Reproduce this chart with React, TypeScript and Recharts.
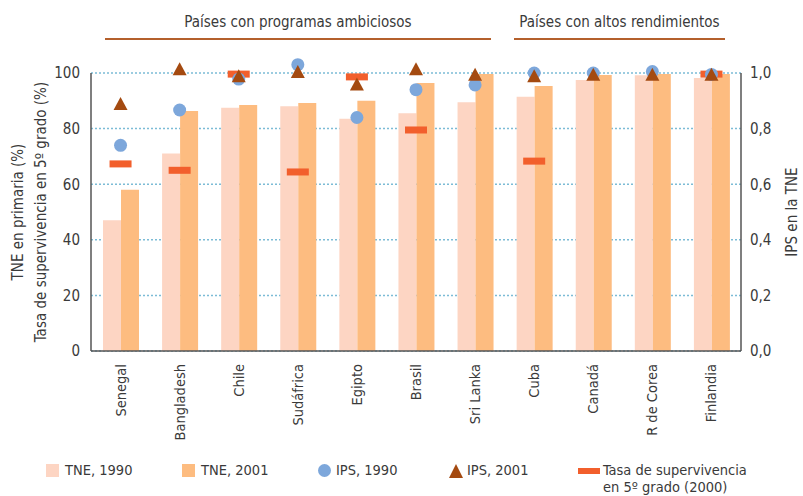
import React from 'react';
import { ComposedChart, Bar, Line, XAxis, YAxis, CartesianGrid } from 'recharts';

const countries = ['Senegal', 'Bangladesh', 'Chile', 'Sudáfrica', 'Egipto', 'Brasil', 'Sri Lanka', 'Cuba', 'Canadá', 'R de Corea', 'Finlandia'];
const tne1990 = [47, 71, 87.5, 88, 83.5, 85.5, 89.5, 91.5, 97.5, 99.2, 98.2];
const tne2001 = [58, 86.3, 88.5, 89.2, 90, 96.4, 99.6, 95.3, 99.3, 99.6, 99.6];
const ips1990 = [0.74, 0.867, 0.978, 1.03, 0.84, 0.94, 0.957, 1.0, 1.0, 1.005, 0.995];
const ips2001 = [0.885, 1.01, 0.985, 1.0, 0.955, 1.01, 0.99, 0.985, 0.99, 0.99, 0.99];
const survival = [67.3, 65, 99.6, 64.4, 98.6, 79.5, null, 68.3, null, null, 99.6];

const leftTicks = [0, 20, 40, 60, 80, 100];
const rightTicks = [0, 0.2, 0.4, 0.6, 0.8, 1];

const data = countries.map((name, i) => ({
  name,
  tne1990: tne1990[i],
  tne2001: tne2001[i],
  ips1990: ips1990[i],
  ips2001: ips2001[i],
  survival: survival[i],
}));

const FONT = '"DejaVu Sans Condensed", "Liberation Sans Narrow", sans-serif';
const TEXT = '#3a3a3a';
const PINK = '#FDD5C3';
const ORANGE = '#FDBC80';
const BLUE = '#7DA7DB';
const BROWN = '#A44A10';
const RED = '#F25F2C';
const HEADER_LINE = '#B4602C';

const renderCircle = (props: any) => {
  const { cx, cy, value, index } = props;
  if (cy == null || value == null) return <g key={`c-${index}`} />;
  return <circle key={`c-${index}`} cx={cx} cy={cy} r={6.5} fill={BLUE} />;
};

const renderTriangle = (props: any) => {
  const { cx, cy, value, index } = props;
  if (cy == null || value == null) return <g key={`t-${index}`} />;
  return (
    <polygon
      key={`t-${index}`}
      points={`${cx - 7},${cy + 5} ${cx + 7},${cy + 5} ${cx},${cy - 8}`}
      fill={BROWN}
    />
  );
};

const renderDash = (props: any) => {
  const { cx, cy, value, index } = props;
  if (cy == null || value == null) return <g key={`d-${index}`} />;
  return <rect key={`d-${index}`} x={cx - 11} y={cy - 3.5} width={22} height={7} fill={RED} />;
};

const CountryTick = ({ x, y, payload }: any) => (
  <text
    x={x}
    y={y}
    dx={-5}
    dy={5}
    transform={`rotate(-90 ${x} ${y})`}
    textAnchor="end"
    fontSize={14.5}
    fontFamily={FONT}
    fill={TEXT}
  >
    {payload.value}
  </text>
);

const LegendItem = ({ left, swatch, label }: { left: number; swatch: React.ReactNode; label: React.ReactNode }) => (
  <div style={{ position: 'absolute', left, top: 462, display: 'flex', alignItems: 'flex-start' }}>
    {swatch}
    <div style={{ lineHeight: '17px', fontSize: 14.5, whiteSpace: 'nowrap' }}>{label}</div>
  </div>
);

export default function App() {
  return (
    <div style={{ position: 'absolute', left: 0, top: 0, width: 803, height: 496, fontFamily: FONT, color: TEXT }}>
      <style>{'.recharts-line-dots{clip-path:none !important}'}</style>

      {/* group headers */}
      <div style={{ position: 'absolute', left: 105, width: 386, top: 13, textAlign: 'center', fontSize: 15, whiteSpace: 'nowrap' }}>
        Países con programas ambiciosos
      </div>
      <div style={{ position: 'absolute', left: 105, width: 386, top: 38, height: 2, background: HEADER_LINE }} />
      <div style={{ position: 'absolute', left: 514, width: 211, top: 13, textAlign: 'center', fontSize: 15, whiteSpace: 'nowrap' }}>
        Países con altos rendimientos
      </div>
      <div style={{ position: 'absolute', left: 514, width: 211, top: 38, height: 2, background: HEADER_LINE }} />

      <ComposedChart
        width={803}
        height={496}
        data={data}
        margin={{ top: 73, right: 0, left: 0, bottom: 45 }}
        barGap={0}
      >
        <CartesianGrid yAxisId="left" vertical={false} stroke="#7CBCD6" strokeDasharray="2 2" strokeWidth={1.5} />
        <XAxis
          dataKey="name"
          interval={0}
          height={100}
          tickLine={false}
          tick={<CountryTick />}
          axisLine={{ stroke: '#555', strokeWidth: 1.5 }}
        />
        <YAxis
          yAxisId="left"
          width={91}
          domain={[0, 100]}
          ticks={leftTicks}
          tickLine={false}
          tickSize={0}
          tickMargin={11}
          axisLine={{ stroke: '#555', strokeWidth: 1.5 }}
          tick={{ fontSize: 15, fontFamily: FONT, fill: TEXT }}
          label={{
            content: (p: any) => {
              const vb = p.viewBox;
              const cy = vb.y + vb.height / 2;
              return (
                <g fontFamily={FONT} fontSize={15} fill={TEXT} textAnchor="middle">
                  <text x={18} y={cy} transform={`rotate(-90 18 ${cy})`} dy={5}>TNE en primaria (%)</text>
                  <text x={41} y={cy} transform={`rotate(-90 41 ${cy})`} dy={5}>Tasa de supervivencia en 5º grado (%)</text>
                </g>
              );
            },
          }}
        />
        <YAxis
          yAxisId="right"
          orientation="right"
          width={62}
          domain={[0, 1]}
          allowDataOverflow
          ticks={rightTicks}
          tickLine={false}
          tickSize={0}
          tickMargin={9}
          tickFormatter={(v: number) => v.toFixed(1).replace('.', ',')}
          axisLine={{ stroke: '#555', strokeWidth: 1.5 }}
          tick={{ fontSize: 15, fontFamily: FONT, fill: TEXT }}
          label={{
            content: (p: any) => {
              const vb = p.viewBox;
              const cy = vb.y + vb.height / 2;
              return (
                <text x={792} y={cy} transform={`rotate(-90 792 ${cy})`} dy={5} textAnchor="middle" fontFamily={FONT} fontSize={15} fill={TEXT}>
                  IPS en la TNE
                </text>
              );
            },
          }}
        />
        <Bar yAxisId="left" dataKey="tne1990" fill={PINK} barSize={18} isAnimationActive={false} />
        <Bar yAxisId="left" dataKey="tne2001" fill={ORANGE} barSize={18} isAnimationActive={false} />
        <Line yAxisId="left" dataKey="survival" stroke="none" dot={renderDash} activeDot={false} isAnimationActive={false} />
        <Line yAxisId="right" dataKey="ips1990" stroke="none" dot={renderCircle} activeDot={false} isAnimationActive={false} />
        <Line yAxisId="right" dataKey="ips2001" stroke="none" dot={renderTriangle} activeDot={false} isAnimationActive={false} />
      </ComposedChart>

      {/* legend */}
      <LegendItem
        left={46}
        swatch={<div style={{ width: 13, height: 13, background: PINK, marginTop: 2, marginRight: 6 }} />}
        label="TNE, 1990"
      />
      <LegendItem
        left={182}
        swatch={<div style={{ width: 13, height: 13, background: ORANGE, marginTop: 2, marginRight: 6 }} />}
        label="TNE, 2001"
      />
      <LegendItem
        left={318}
        swatch={<div style={{ width: 13, height: 13, borderRadius: '50%', background: BLUE, marginTop: 2, marginRight: 5 }} />}
        label="IPS, 1990"
      />
      <LegendItem
        left={449}
        swatch={
          <svg width={14} height={14} style={{ marginTop: 2, marginRight: 4 }}>
            <polygon points="0,14 14,14 7,0" fill={BROWN} />
          </svg>
        }
        label="IPS, 2001"
      />
      <LegendItem
        left={578}
        swatch={<div style={{ width: 22, height: 6, background: RED, marginTop: 6, marginRight: 3 }} />}
        label={<>Tasa de supervivencia<br />en 5º grado (2000)</>}
      />
    </div>
  );
}
